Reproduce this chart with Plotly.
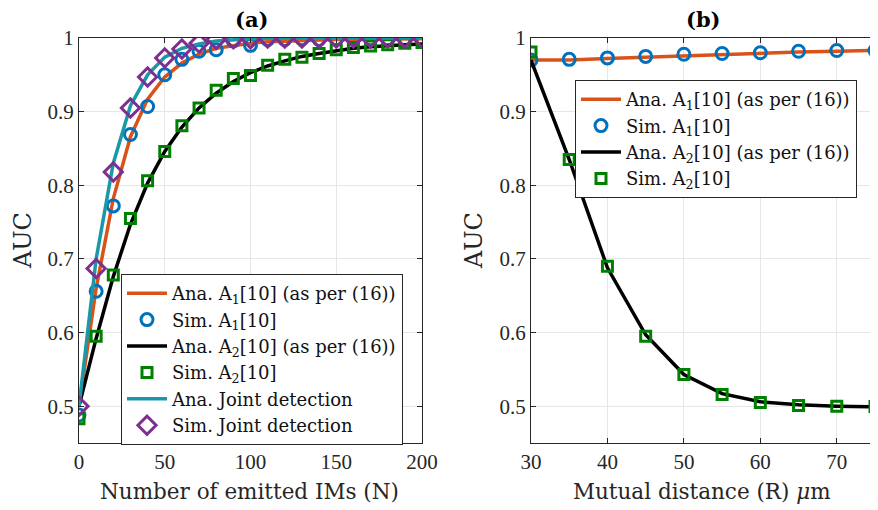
import plotly.graph_objects as go

# ---------------- data: panel (a) ----------------
N = [0, 10, 20, 30, 40, 50, 60, 70, 80, 90, 100, 110, 120, 130, 140, 150, 160, 170, 180, 190, 200]
ana_a1 = [0.500, 0.660, 0.782, 0.866, 0.917, 0.947, 0.966, 0.978, 0.986, 0.990, 0.993, 0.995, 0.996, 0.997, 0.9975, 0.998, 0.998, 0.9985, 0.9985, 0.999, 0.999]
sim_a1 = [0.488, 0.656, 0.772, 0.869, 0.907, 0.950, 0.971, 0.982, 0.984, 0.996, 0.990, 0.998, 0.998, 0.999, 0.998, 0.999, 0.999, 0.999, 0.999, 0.999, 0.999]
ana_a2 = [0.500, 0.592, 0.676, 0.747, 0.803, 0.846, 0.879, 0.905, 0.925, 0.941, 0.953, 0.962, 0.969, 0.975, 0.979, 0.983, 0.986, 0.988, 0.990, 0.991, 0.992]
sim_a2 = [0.483, 0.595, 0.678, 0.755, 0.806, 0.846, 0.881, 0.905, 0.929, 0.945, 0.949, 0.963, 0.971, 0.974, 0.979, 0.984, 0.987, 0.989, 0.991, 0.993, 0.994]
ana_joint = [0.500, 0.700, 0.830, 0.908, 0.950, 0.974, 0.986, 0.992, 0.996, 0.998, 0.999, 0.9995, 0.9997, 0.9998, 0.9999, 1.0, 1.0, 1.0, 1.0, 1.0, 1.0]
sim_joint = [0.500, 0.687, 0.818, 0.905, 0.947, 0.973, 0.985, 0.993, 0.998, 0.999, 0.999, 1.0, 1.0, 1.0, 1.0, 1.0, 1.0, 1.0, 1.0, 1.0, 1.0]

# ---------------- data: panel (b) ----------------
R = [30, 35, 40, 45, 50, 55, 60, 65, 70, 75]
ana_b1 = [0.970, 0.970, 0.972, 0.974, 0.976, 0.978, 0.980, 0.981, 0.982, 0.983]
sim_b1 = [0.970, 0.971, 0.973, 0.975, 0.978, 0.979, 0.980, 0.982, 0.983, 0.983]
ana_b2 = [0.970, 0.835, 0.688, 0.597, 0.543, 0.517, 0.506, 0.502, 0.500, 0.499]
sim_b2 = [0.981, 0.835, 0.690, 0.595, 0.543, 0.516, 0.505, 0.501, 0.500, 0.4995]

x_ticks_a = [0, 50, 100, 150, 200]
x_ticks_b = [30, 40, 50, 60, 70]
y_ticks = [0.5, 0.6, 0.7, 0.8, 0.9, 1.0]
y_tick_text = ["0.5", "0.6", "0.7", "0.8", "0.9", "1"]

ORANGE = "#D95319"
BLUE = "#0072BD"
GREEN = "#008000"
TEAL = "#1A98A8"
PURPLE = "#7E2F8E"
TICKFONT = "Liberation Serif"
FONT = "DejaVu Serif"
TXT = "#262626"

# page has an 8px body margin: figure is sized to fit the window
OFF = 8
W, H = 878 - OFF, 510 - OFF
def px(x):
    return (x - OFF) / W
def py(y):
    return 1 - (y - OFF) / H

lbl_ana1 = "Ana. A<sub>1</sub>[10] (as per (16))"
lbl_sim1 = "Sim. A<sub>1</sub>[10]"
lbl_ana2 = "Ana. A<sub>2</sub>[10] (as per (16))"
lbl_sim2 = "Sim. A<sub>2</sub>[10]"

fig = go.Figure()

def line(x, y, name, color, xa, ya, lg):
    return go.Scatter(x=x, y=y, mode="lines", name=name, line=dict(color=color, width=3.5),
                      xaxis=xa, yaxis=ya, legend=lg)

def mark(x, y, name, color, symbol, size, xa, ya, lg):
    return go.Scatter(x=x, y=y, mode="markers", name=name,
                      marker=dict(symbol=symbol, size=size, color=color,
                                  line=dict(color=color, width=3)),
                      xaxis=xa, yaxis=ya, legend=lg)

# panel (a)
fig.add_trace(line(N, ana_a1, lbl_ana1, ORANGE, "x", "y", "legend"))
fig.add_trace(mark(N, sim_a1, lbl_sim1, BLUE, "circle-open", 12, "x", "y", "legend"))
fig.add_trace(line(N, ana_a2, lbl_ana2, "black", "x", "y", "legend"))
fig.add_trace(mark(N, sim_a2, lbl_sim2, GREEN, "square-open", 10, "x", "y", "legend"))
fig.add_trace(line(N, ana_joint, "Ana. Joint detection", TEAL, "x", "y", "legend"))
fig.add_trace(mark(N, sim_joint, "Sim. Joint detection", PURPLE, "diamond-open", 14, "x", "y", "legend"))

# panel (b)
fig.add_trace(line(R, ana_b1, lbl_ana1, ORANGE, "x2", "y2", "legend2"))
fig.add_trace(mark(R, sim_b1, lbl_sim1, BLUE, "circle-open", 12, "x2", "y2", "legend2"))
fig.add_trace(line(R, ana_b2, lbl_ana2, "black", "x2", "y2", "legend2"))
fig.add_trace(mark(R, sim_b2, lbl_sim2, GREEN, "square-open", 10, "x2", "y2", "legend2"))

ax_common = dict(showline=True, linecolor=TXT, linewidth=1, mirror="ticks",
                 ticks="inside", ticklen=5, tickcolor=TXT, automargin=False,
                 showgrid=True, gridcolor="#E6E6E6", gridwidth=1, zeroline=False,
                 tickfont=dict(family=TICKFONT, size=21, color=TXT))

XA = [px(79), px(422)]
XB = [px(531), px(875)]
YD = [py(443), py(38)]

leg_common = dict(xanchor="left", yanchor="top", bgcolor="white",
                  bordercolor=TXT, borderwidth=1, tracegroupgap=0, itemwidth=40,
                  font=dict(family=FONT, size=18, color="#111111"))

def ann(text, x, y, size, angle=0, color=TXT):
    return dict(text=text, x=px(x), y=py(y), xref="paper", yref="paper",
                xanchor="center", yanchor="middle", textangle=angle, showarrow=False,
                font=dict(family=FONT, size=size, color=color))

fig.update_layout(
    width=W, height=H,
    margin=dict(l=0, r=0, t=0, b=0, autoexpand=False),
    paper_bgcolor="white", plot_bgcolor="white",
    font=dict(family=FONT, color=TXT),
    xaxis=dict(domain=XA, range=[0, 200], tickvals=x_ticks_a, anchor="y", **ax_common),
    yaxis=dict(domain=YD, range=[0.45, 1.0], tickvals=y_ticks, ticktext=y_tick_text, anchor="x", **ax_common),
    xaxis2=dict(domain=XB, range=[30, 75], tickvals=x_ticks_b, anchor="y2", **ax_common),
    yaxis2=dict(domain=YD, range=[0.45, 1.0], tickvals=y_ticks, ticktext=y_tick_text, anchor="x2", **ax_common),
    legend=dict(x=px(121), y=py(274), **leg_common),
    legend2=dict(x=px(575), y=py(80), **leg_common),
    showlegend=True,
    annotations=[
        ann("<b>(a)</b>", 251, 20, 21, color="black"),
        ann("<b>(b)</b>", 703, 20, 21, color="black"),
        ann("Number of emitted IMs (N)", 250, 491, 21.5),
        ann("Mutual distance (R) <i>μ</i>m", 702, 491, 21.5),
        ann("AUC", 23, 241, 24, angle=-90),
        ann("AUC", 474, 241, 24, angle=-90),
    ],
)

fig.write_html("out.html")
